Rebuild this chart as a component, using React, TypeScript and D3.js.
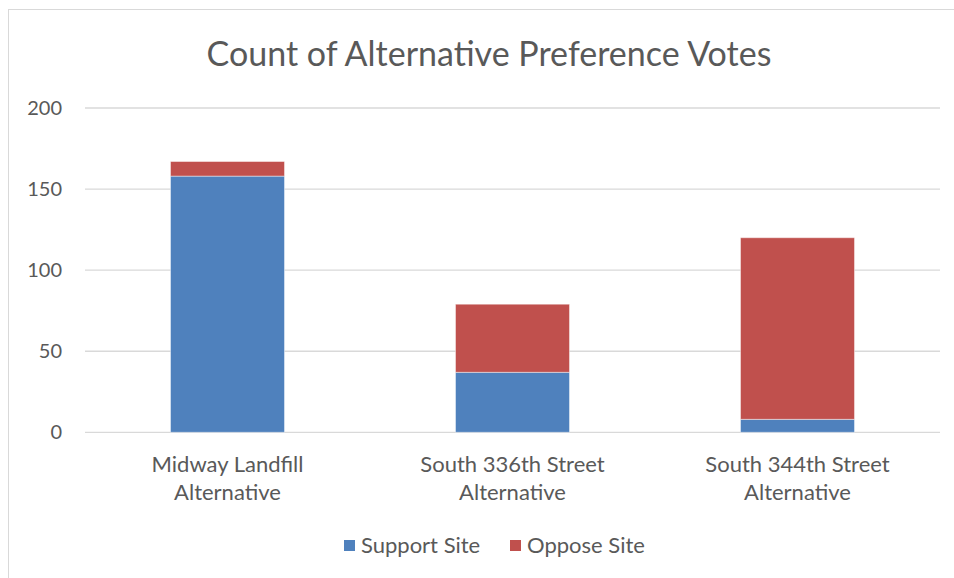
import React from "react";
import * as d3 from "d3";

const categories = ["Midway Landfill\nAlternative", "South 336th Street\nAlternative", "South 344th Street\nAlternative"];
const supportSite = [158, 37, 8];
const opposeSite = [9, 42, 112];
const seriesNames = ["Support Site", "Oppose Site"];
const seriesColors = ["#4F81BD", "#C0504D"];
const yTicks = [0, 50, 100, 150, 200];
const title = "Count of Alternative Preference Votes";

const W = 954;
const H = 578;
const FONT = "Lato, 'Open Sans', sans-serif";
const TEXT = "#595959";

export default function App() {
  const left = 85, right = 940, top = 108, bottom = 432.3;
  const x = d3.scaleBand<number>().domain(d3.range(categories.length)).range([left, right]).paddingInner(0.6).paddingOuter(0.3);
  const y = d3.scaleLinear().domain([0, 200]).range([bottom, top]);
  const rows = categories.map((c, i) => ({ i, support: supportSite[i], oppose: opposeSite[i] }));
  const stacked = d3.stack<any>().keys(["support", "oppose"])(rows);

  return (
    <svg width={W} height={H} style={{ position: "absolute", left: 0, top: 0, background: "#fff" }}>
      <rect x={8.5} y={9.5} width={W + 20} height={H + 20} fill="#fff" stroke="#D9D9D9" strokeWidth={1} />
      <text x={489} y={66} textAnchor="middle" fontFamily={FONT} fontSize={34} fill={TEXT}>{title}</text>
      {yTicks.map((t) => (
        <g key={t}>
          <line x1={left} x2={right} y1={y(t)} y2={y(t)} stroke="#D9D9D9" strokeWidth={1.3} />
          <text x={62} y={y(t)} dy="0.35em" textAnchor="end" fontFamily={FONT} fontSize={20} fill={TEXT}>{t}</text>
        </g>
      ))}
      {stacked.map((s, si) => (
        <g key={si} fill={seriesColors[si]}>
          {s.map((d, i) => (
            <rect key={i} x={x(i)!} width={x.bandwidth()} y={y(d[1])} height={y(d[0]) - y(d[1])} stroke="#ffffff" strokeOpacity={0.45} strokeWidth={1} />
          ))}
        </g>
      ))}
      {categories.map((c, i) => (
        <text key={i} textAnchor="middle" fontFamily={FONT} fontSize={22} fill={TEXT}>
          {c.split("\n").map((line, li) => (
            <tspan key={li} x={x(i)! + x.bandwidth() / 2} y={472 + li * 28}>{line}</tspan>
          ))}
        </text>
      ))}
      {seriesNames.map((n, i) => {
        const lx = [344, 510][i];
        return (
          <g key={n}>
            <rect x={lx} y={540} width={11} height={11} fill={seriesColors[i]} />
            <text x={lx + 17} y={553} fontFamily={FONT} fontSize={22} fill={TEXT}>{n}</text>
          </g>
        );
      })}
    </svg>
  );
}
